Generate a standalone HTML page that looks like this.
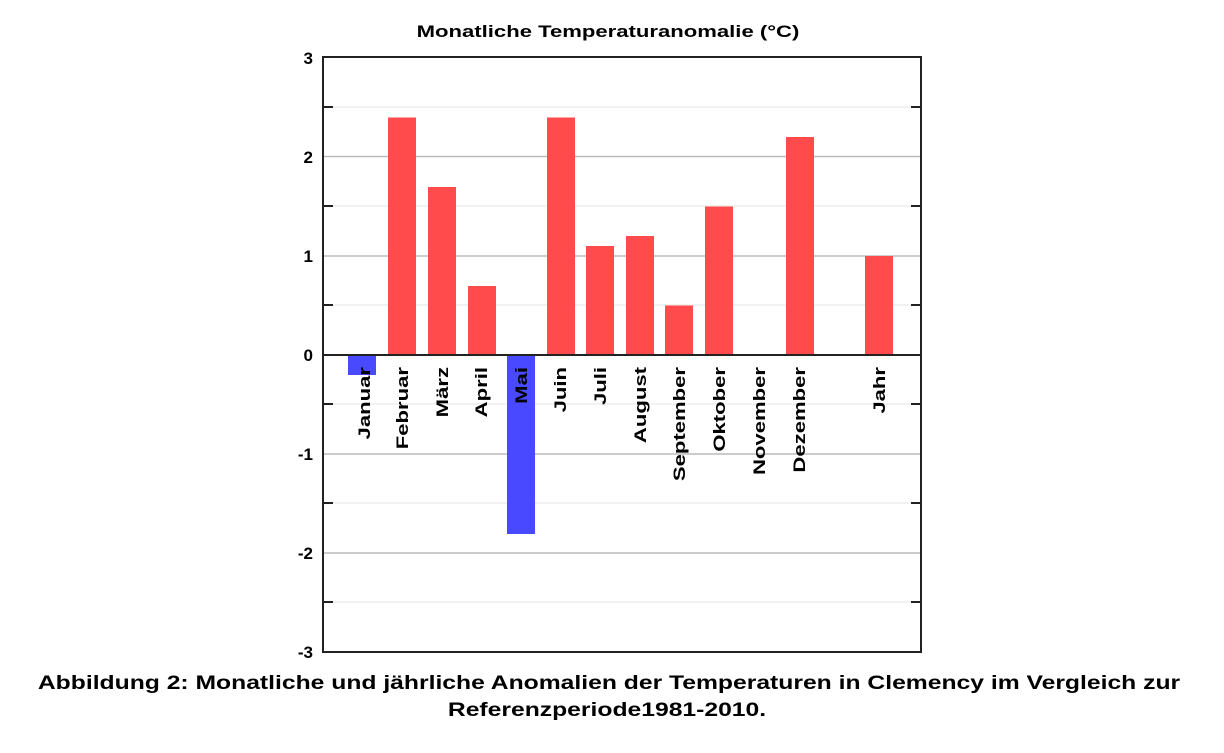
<!DOCTYPE html>
<html><head><meta charset="utf-8"><style>
body{margin:0;background:#fff;}
svg{display:block;font-family:"Liberation Sans",Arial,sans-serif;font-weight:bold;}
</style></head><body>
<svg width="1224" height="753" xmlns="http://www.w3.org/2000/svg">
<text transform="translate(608,37) scale(1.3,1)" font-size="17" text-anchor="middle">Monatliche Temperaturanomalie (°C)</text>
<g stroke-width="1.5">
<line x1="323" x2="921" y1="107" y2="107" stroke="#eee"/>
<line x1="323" x2="921" y1="156.5" y2="156.5" stroke="#bbb"/>
<line x1="323" x2="921" y1="206" y2="206" stroke="#eee"/>
<line x1="323" x2="921" y1="256" y2="256" stroke="#bbb"/>
<line x1="323" x2="921" y1="305" y2="305" stroke="#eee"/>
<line x1="323" x2="921" y1="404" y2="404" stroke="#eee"/>
<line x1="323" x2="921" y1="454" y2="454" stroke="#bbb"/>
<line x1="323" x2="921" y1="503" y2="503" stroke="#eee"/>
<line x1="323" x2="921" y1="553" y2="553" stroke="#bbb"/>
<line x1="323" x2="921" y1="602" y2="602" stroke="#eee"/>
</g>
<g fill="#ff4b4b">
<rect x="388" y="117.5" width="28" height="237.5"/>
<rect x="428" y="187" width="28" height="168"/>
<rect x="468" y="286" width="28" height="69"/>
<rect x="547" y="117.5" width="28" height="237.5"/>
<rect x="586" y="246" width="28" height="109"/>
<rect x="626" y="236" width="28" height="119"/>
<rect x="665" y="305.5" width="28" height="49.5"/>
<rect x="705" y="206.5" width="28" height="148.5"/>
<rect x="786" y="137" width="28" height="218"/>
<rect x="865" y="256" width="28" height="99"/>
</g>
<g fill="#4949ff">
<rect x="348" y="355" width="28" height="20"/>
<rect x="507" y="355" width="28" height="179"/>
</g>
<rect x="323" y="57" width="598" height="595" fill="none" stroke="#222" stroke-width="2"/>
<line x1="323" x2="921" y1="355" y2="355" stroke="#222" stroke-width="2"/>
<g stroke="#222" stroke-width="2">
<line x1="323" x2="333" y1="107" y2="107"/><line x1="323" x2="333" y1="206" y2="206"/><line x1="323" x2="333" y1="305" y2="305"/><line x1="323" x2="333" y1="404" y2="404"/><line x1="323" x2="333" y1="503" y2="503"/><line x1="323" x2="333" y1="602" y2="602"/>
<line x1="911" x2="921" y1="107" y2="107"/><line x1="911" x2="921" y1="206" y2="206"/><line x1="911" x2="921" y1="305" y2="305"/><line x1="911" x2="921" y1="404" y2="404"/><line x1="911" x2="921" y1="503" y2="503"/><line x1="911" x2="921" y1="602" y2="602"/>
</g>
<g font-size="17" text-anchor="end">
<text x="313" y="64">3</text><text x="313" y="163">2</text><text x="313" y="262">1</text><text x="313" y="361">0</text><text x="313" y="460">-1</text><text x="313" y="559">-2</text><text x="313" y="658">-3</text>
</g>
<g font-size="17" text-anchor="end">
<text transform="translate(370,367) rotate(-90) scale(1.3,1)">Januar</text>
<text transform="translate(408,367) rotate(-90) scale(1.3,1)">Februar</text>
<text transform="translate(448,367) rotate(-90) scale(1.3,1)">März</text>
<text transform="translate(487,367) rotate(-90) scale(1.3,1)">April</text>
<text transform="translate(527,367) rotate(-90) scale(1.3,1)">Mai</text>
<text transform="translate(566,367) rotate(-90) scale(1.3,1)">Juin</text>
<text transform="translate(606,367) rotate(-90) scale(1.3,1)">Juli</text>
<text transform="translate(646,367) rotate(-90) scale(1.3,1)">August</text>
<text transform="translate(685,367) rotate(-90) scale(1.3,1)">September</text>
<text transform="translate(725,367) rotate(-90) scale(1.3,1)">Oktober</text>
<text transform="translate(765,367) rotate(-90) scale(1.3,1)">November</text>
<text transform="translate(805,367) rotate(-90) scale(1.3,1)">Dezember</text>
<text transform="translate(885,367) rotate(-90) scale(1.3,1)">Jahr</text>
</g>
<text transform="translate(609,689) scale(1.3,1)" font-size="19" text-anchor="middle">Abbildung 2: Monatliche und jährliche Anomalien der Temperaturen in Clemency im Vergleich zur</text>
<text transform="translate(607,716) scale(1.3,1)" font-size="19" text-anchor="middle">Referenzperiode1981-2010.</text>
</svg>
</body></html>
